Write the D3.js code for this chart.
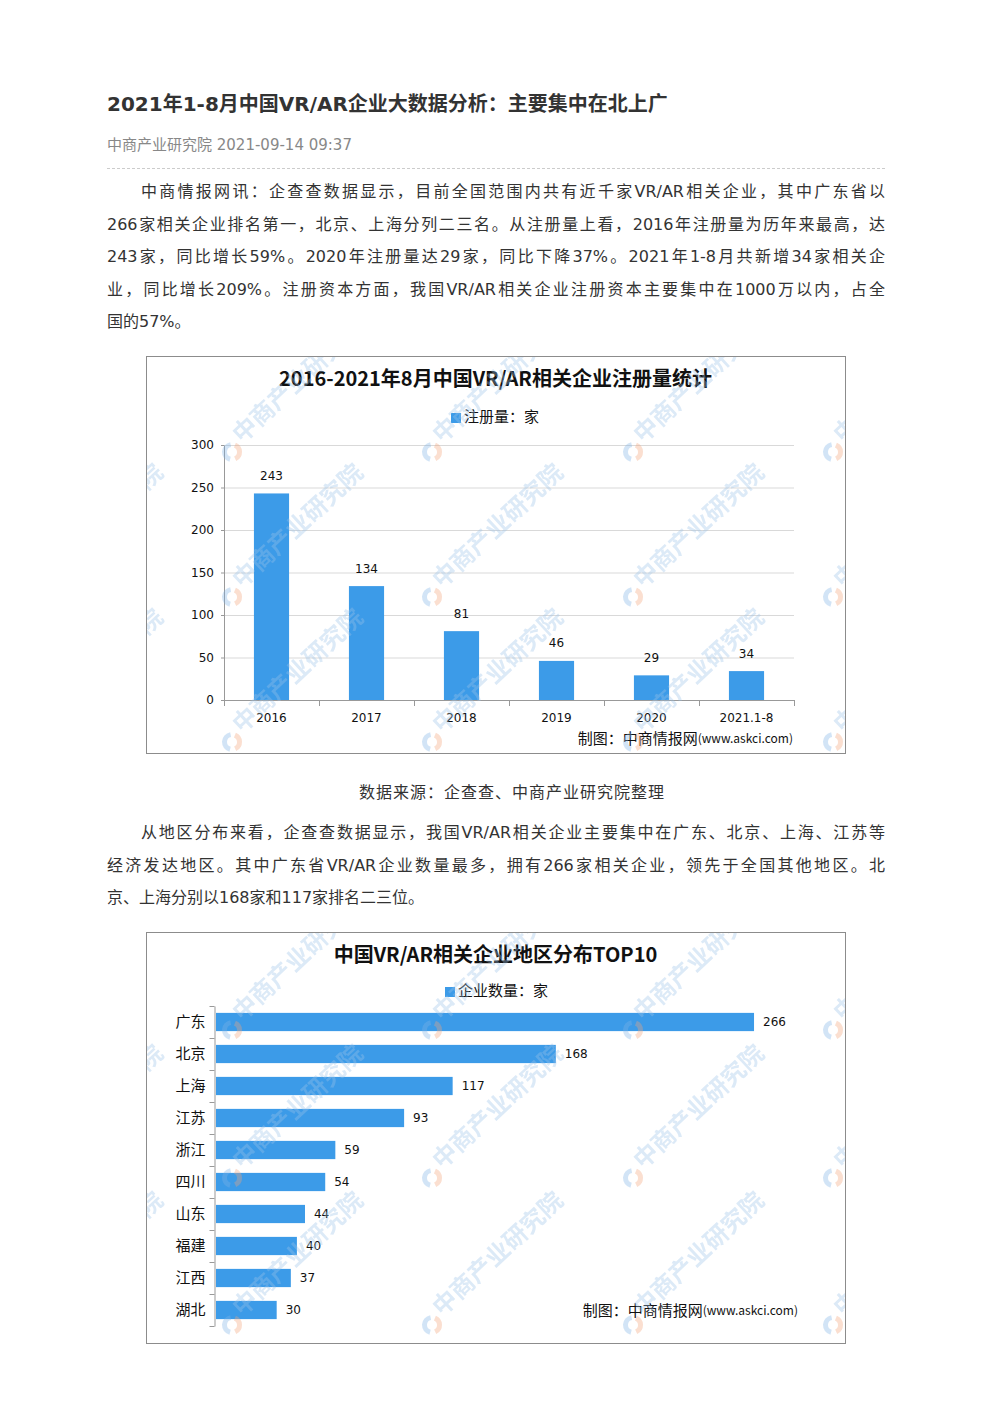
<!DOCTYPE html>
<html>
<head>
<meta charset="utf-8">
<script src="https://cdn.jsdelivr.net/npm/d3@7"></script>
<style>
  body { margin: 0; background: #fff; font-family: "DejaVu Sans", "Noto Sans CJK SC", sans-serif; }
  #page { position: relative; width: 992px; height: 1403px; overflow: hidden; }
  .ln { position: absolute; left: 107px; width: 778px; height: 32px; line-height: 32px;
        font-size: 16px; color: #333; white-space: nowrap;
        text-align: justify; text-align-last: justify; }
  .ln.first { left: 141px; width: 744px; }
  .ln.last { text-align-last: left; }
  svg { position: absolute; left: 0; top: 0; }
  .cjk { font-family: "Noto Sans CJK SC", sans-serif; }
</style>
</head>
<body>
<div id="page"></div>
<script>
// Dữ liệu biểu đồ 1: số lượng đăng ký theo năm
const years = ["2016", "2017", "2018", "2019", "2020", "2021.1-8"];
const registrations = [243, 134, 81, 46, 29, 34];
const regTicks = [0, 50, 100, 150, 200, 250, 300];

// Dữ liệu biểu đồ 2: top 10 khu vực
const regions = ["广东", "北京", "上海", "江苏", "浙江", "四川", "山东", "福建", "江西", "湖北"];
const regionCounts = [266, 168, 117, 93, 59, 54, 44, 40, 37, 30];

// Văn bản bài viết
const para1 = [
  "中商情报网讯：企查查数据显示，目前全国范围内共有近千家VR/AR相关企业，其中广东省以",
  "266家相关企业排名第一，北京、上海分列二三名。从注册量上看，2016年注册量为历年来最高，达",
  "243家，同比增长59%。2020年注册量达29家，同比下降37%。2021年1-8月共新增34家相关企",
  "业，同比增长209%。注册资本方面，我国VR/AR相关企业注册资本主要集中在1000万以内，占全",
  "国的57%。"
];
const para2 = [
  "从地区分布来看，企查查数据显示，我国VR/AR相关企业主要集中在广东、北京、上海、江苏等",
  "经济发达地区。其中广东省VR/AR企业数量最多，拥有266家相关企业，领先于全国其他地区。北",
  "京、上海分别以168家和117家排名二三位。"
];

const barColor = "#3c9be8";
const page = d3.select("#page");

function addPara(lines, y0) {
  lines.forEach((t, i) => {
    page.append("div")
      .attr("class", "ln" + (i === 0 ? " first" : "") + (i === lines.length - 1 ? " last" : ""))
      .style("top", (y0 + i * 32.5 - 15) + "px")
      .text(t);
  });
}
addPara(para1, 191);
addPara(para2, 832);

const svg = page.append("svg").attr("width", 992).attr("height", 1403);

// Tiêu đề và thông tin
svg.append("text").attr("x", 107).attr("y", 105).attr("dominant-baseline", "middle")
  .style("font-size", "20px").style("font-weight", "bold").style("fill", "#333")
  .text("2021年1-8月中国VR/AR企业大数据分析：主要集中在北上广");
svg.append("text").attr("x", 107).attr("y", 145).attr("dominant-baseline", "middle")
  .style("font-size", "15px").style("fill", "#888")
  .text("中商产业研究院 2021-09-14 09:37");
svg.append("line").attr("x1", 107).attr("x2", 885).attr("y1", 168.5).attr("y2", 168.5)
  .style("stroke", "#ccc").style("stroke-dasharray", "3,2");

svg.append("text").attr("x", 512).attr("y", 793).attr("dominant-baseline", "middle")
  .attr("text-anchor", "middle").style("font-size", "16px").style("letter-spacing", "1px")
  .style("fill", "#333").text("数据来源：企查查、中商产业研究院整理");

function frame(x, y, w, h, title, ty, legend, lx, ly) {
  svg.append("rect").attr("x", x + 0.5).attr("y", y + 0.5).attr("width", w).attr("height", h)
    .style("fill", "#fff").style("stroke", "#8c8c8c");
  svg.append("text").attr("class", "cjk").attr("x", x + w / 2).attr("y", ty).attr("text-anchor", "middle")
    .attr("dominant-baseline", "middle").style("font-size", "20px").style("font-weight", "bold")
    .style("fill", "#111").text(title);
  svg.append("rect").attr("x", lx).attr("y", ly - 5).attr("width", 10).attr("height", 10)
    .style("fill", barColor);
  svg.append("text").attr("class", "cjk").attr("x", lx + 13).attr("y", ly).attr("dominant-baseline", "middle")
    .style("font-size", "15px").style("fill", "#111").text(legend);
}

function credit(xEnd, y) {
  const t = svg.append("text").attr("class", "cjk").attr("x", xEnd).attr("y", y).attr("text-anchor", "end")
    .attr("dominant-baseline", "middle").style("fill", "#111");
  t.append("tspan").style("font-size", "15px").text("制图：中商情报网");
  t.append("tspan").style("font-size", "12px").text("(www.askci.com)");
}

// Hình mờ (watermark) trong khung biểu đồ
function watermark(id, x, y, w, h, ys) {
  svg.append("clipPath").attr("id", id).append("rect")
    .attr("x", x + 1).attr("y", y + 1).attr("width", w - 1).attr("height", h - 1);
  const wm = svg.append("g").attr("clip-path", `url(#${id})`).style("opacity", 0.35);
  [32, 232, 432, 633, 833].forEach(cx => {
    ys.forEach(cy => {
      wm.append("path")
        .attr("d", d3.arc()({ innerRadius: 5, outerRadius: 10, startAngle: 3.4, endAngle: 6.1 }))
        .attr("transform", `translate(${cx},${cy})`).style("fill", "#7fb3e6");
      wm.append("path")
        .attr("d", d3.arc()({ innerRadius: 5, outerRadius: 10, startAngle: 0.4, endAngle: 2.7 }))
        .attr("transform", `translate(${cx},${cy})`).style("fill", "#f3a47a");
      wm.append("text").attr("class", "cjk")
        .attr("transform", `translate(${cx + 10},${cy - 8}) rotate(-43)`)
        .style("font-size", "24px").style("font-weight", "bold").style("fill", "#9cc2e8")
        .text("中商产业研究院");
    });
  });
}

// ===== Biểu đồ 1 =====
frame(146, 356, 699, 397, "2016-2021年8月中国VR/AR相关企业注册量统计", 381, "注册量：家", 451, 418);

const x1 = d3.scaleBand().domain(years).range([224, 794]).paddingInner(0.63).paddingOuter(0.315);
const y1 = d3.scaleLinear().domain([0, 300]).range([700, 445]);

const g1 = svg.append("g");
g1.append("g").attr("transform", "translate(224,0)")
  .call(d3.axisLeft(y1).tickValues(regTicks).tickSize(-570).tickFormat(""))
  .call(g => g.select(".domain").remove())
  .selectAll("line").style("stroke", "#d9d9d9");

g1.append("g").attr("transform", "translate(224,0)")
  .call(d3.axisLeft(y1).tickValues(regTicks).tickSize(3).tickSizeOuter(0).tickPadding(7))
  .call(g => g.select(".domain").style("stroke", "#999"))
  .call(g => g.selectAll("line").style("stroke", "#999"))
  .selectAll("text").style("font-size", "12px").style("fill", "#111")
  .style("font-family", "'DejaVu Sans', sans-serif");

g1.selectAll(".bar").data(registrations).enter().append("rect")
  .attr("x", (d, i) => x1(years[i]))
  .attr("y", d => y1(d))
  .attr("width", x1.bandwidth())
  .attr("height", d => y1(0) - y1(d))
  .style("fill", barColor);

g1.selectAll(".lbl").data(registrations).enter().append("text")
  .attr("x", (d, i) => x1(years[i]) + x1.bandwidth() / 2)
  .attr("y", d => y1(d) - 17)
  .attr("text-anchor", "middle").attr("dominant-baseline", "middle")
  .style("font-size", "12px").style("fill", "#111")
  .text(d => d);

// Trục X với vạch ở ranh giới các cột
const xAxis = g1.append("g");
xAxis.append("line").attr("x1", 224).attr("x2", 794).attr("y1", 700.5).attr("y2", 700.5)
  .style("stroke", "#999");
xAxis.selectAll(".tk").data(d3.range(years.length + 1)).enter().append("line")
  .attr("x1", i => 224 + i * x1.step() + 0.5).attr("x2", i => 224 + i * x1.step() + 0.5)
  .attr("y1", 700).attr("y2", 706).style("stroke", "#999");
xAxis.selectAll(".xl").data(years).enter().append("text")
  .attr("x", d => x1(d) + x1.bandwidth() / 2).attr("y", 718)
  .attr("text-anchor", "middle").attr("dominant-baseline", "middle")
  .style("font-size", "12px").style("fill", "#111")
  .text(d => d);

credit(793, 740);
watermark("wm1", 146, 356, 699, 397, [452, 597, 742]);

// ===== Biểu đồ 2 =====
frame(146, 932, 699, 411, "中国VR/AR相关企业地区分布TOP10", 957, "企业数量：家", 445, 992);

const y2 = d3.scaleBand().domain(regions).range([1006, 1326]).paddingInner(0.43).paddingOuter(0.215);
const x2 = d3.scaleLinear().domain([0, 300]).range([216, 822.8]);

const g2 = svg.append("g");
g2.append("g").attr("transform", "translate(214.5,0)")
  .call(d3.axisLeft(y2).tickSize(0).tickPadding(9))
  .call(g => g.select(".domain").style("stroke", "#999"))
  .selectAll("text").attr("class", "cjk").style("font-size", "15px").style("fill", "#111");
g2.selectAll(".tk").data(d3.range(regions.length + 1)).enter().append("line")
  .attr("x1", 209.5).attr("x2", 214.5)
  .attr("y1", i => 1006 + i * y2.step() + 0.5).attr("y2", i => 1006 + i * y2.step() + 0.5)
  .style("stroke", "#999");

g2.selectAll(".bar").data(regionCounts).enter().append("rect")
  .attr("x", x2(0))
  .attr("y", (d, i) => y2(regions[i]))
  .attr("width", d => x2(d) - x2(0))
  .attr("height", y2.bandwidth())
  .style("fill", barColor);

g2.selectAll(".lbl").data(regionCounts).enter().append("text")
  .attr("x", d => x2(d) + 9)
  .attr("y", (d, i) => y2(regions[i]) + y2.bandwidth() / 2)
  .attr("dominant-baseline", "middle")
  .style("font-size", "12px").style("fill", "#111")
  .text(d => d);

credit(798, 1312);
watermark("wm2", 146, 932, 699, 411, [885, 1030, 1178, 1325]);
</script>
</body>
</html>
